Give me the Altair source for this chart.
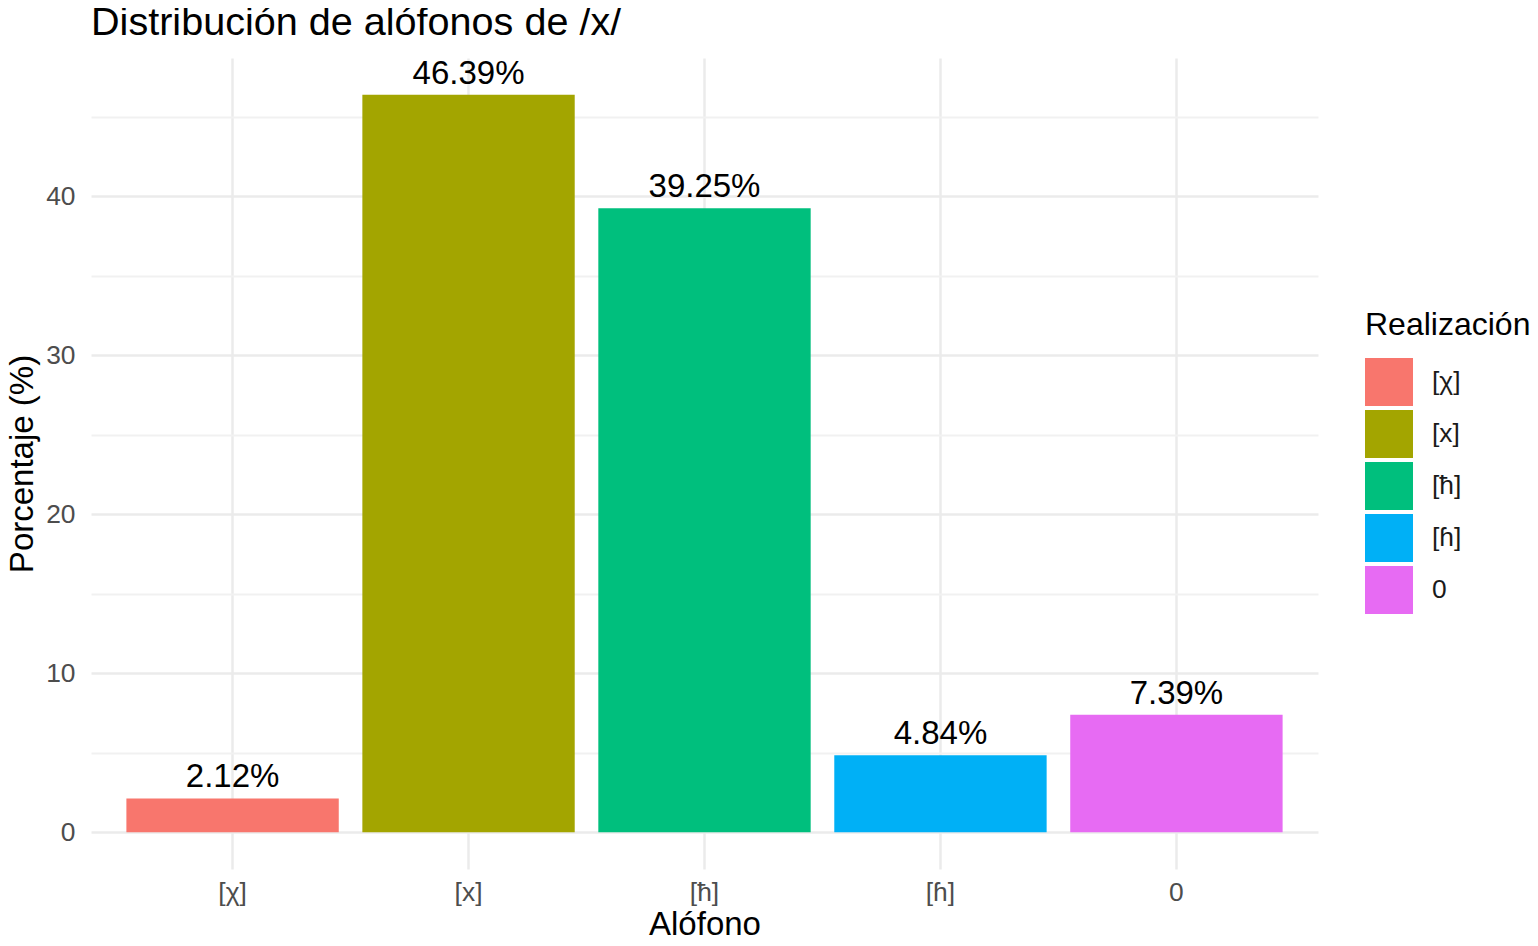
import altair as alt
import pandas as pd

# ---- data ----
categories = ["[χ]", "[x]", "[ħ]", "[ɦ]", "0"]
percentages = [2.12, 46.39, 39.25, 4.84, 7.39]
colors = ["#F8766D", "#A3A500", "#00BF7D", "#00B0F6", "#E76BF3"]
y_ticks = [0, 5, 10, 15, 20, 25, 30, 35, 40, 45]

df = pd.DataFrame({
    "Alófono": categories,
    "Porcentaje": percentages,
    "label": [f"{v:.2f}%" for v in percentages],
})

ymax = max(percentages)
ydomain = [-0.05 * ymax, ymax * 1.05]

FONT = "Liberation Sans"

x_enc = alt.X(
    "Alófono:N",
    sort=categories,
    scale=alt.Scale(paddingInner=0.1, paddingOuter=0.15),
    axis=alt.Axis(
        title="Alófono",
        labelAngle=0,
        grid=True,
        bandPosition=0.5,
        gridColor="#ebebeb",
        gridWidth=2.5,
        ticks=False,
        domain=False,
        labelFontSize=26.4,
        labelColor="#4d4d4d",
        labelPadding=10,
        titleFontSize=33,
        titleFontWeight="normal",
        titleColor="black",
        titlePadding=3,
    ),
)

y_enc = alt.Y(
    "Porcentaje:Q",
    scale=alt.Scale(domain=ydomain, nice=False, zero=False),
    axis=alt.Axis(
        title="Porcentaje (%)",
        values=y_ticks,
        labelExpr="datum.value % 10 === 0 ? datum.label : ''",
        gridColor={"condition": {"test": "datum.value % 10 === 0", "value": "#ebebeb"}, "value": "#f1f1f1"},
        gridWidth={"condition": {"test": "datum.value % 10 === 0", "value": 2.5}, "value": 2},
        ticks=False,
        domain=False,
        labelFontSize=26.4,
        labelColor="#4d4d4d",
        labelPadding=16,
        titleFontSize=33,
        titleFontWeight="normal",
        titleColor="black",
        titlePadding=6,
    ),
)

bars = alt.Chart(df).mark_bar().encode(
    x=x_enc,
    y=y_enc,
    y2=alt.Y2(datum=0),
    color=alt.Color(
        "Alófono:N",
        sort=categories,
        scale=alt.Scale(domain=categories, range=colors),
        legend=alt.Legend(
            title="Realización",
            orient="none",
            legendX=1274,
            legendY=252,
            symbolType="square",
            symbolSize=2304,
            symbolStrokeWidth=0,
            symbolOpacity=1,
            rowPadding=4,
            labelOffset=19,
            labelFontSize=26.4,
            labelColor="#1a1a1a",
            titleFontSize=32,
            titleFontWeight="normal",
            titleColor="black",
            titlePadding=16,
        ),
    ),
)

texts = alt.Chart(df).mark_text(
    baseline="alphabetic", dy=-11, fontSize=33, color="black", font=FONT
).encode(
    x=alt.X("Alófono:N", sort=categories),
    y=alt.Y("Porcentaje:Q"),
    text="label:N",
)

chart = (
    alt.layer(bars, texts)
    .properties(
        width=1227,
        height=811,
        padding={"left": 83, "top": 50, "right": 212, "bottom": 69},
        autosize=alt.AutoSizeParams(type="none"),
        title=alt.TitleParams(
            "Distribución de alófonos de /x/",
            anchor="start",
            frame="group",
            fontSize=39.6,
            fontWeight="normal",
            color="black",
            offset=14,
        ),
        background="white",
    )
    .configure(font=FONT)
    .configure_view(stroke=None)
)

chart.save("out.html", embed_options={"renderer": "svg", "actions": False})
